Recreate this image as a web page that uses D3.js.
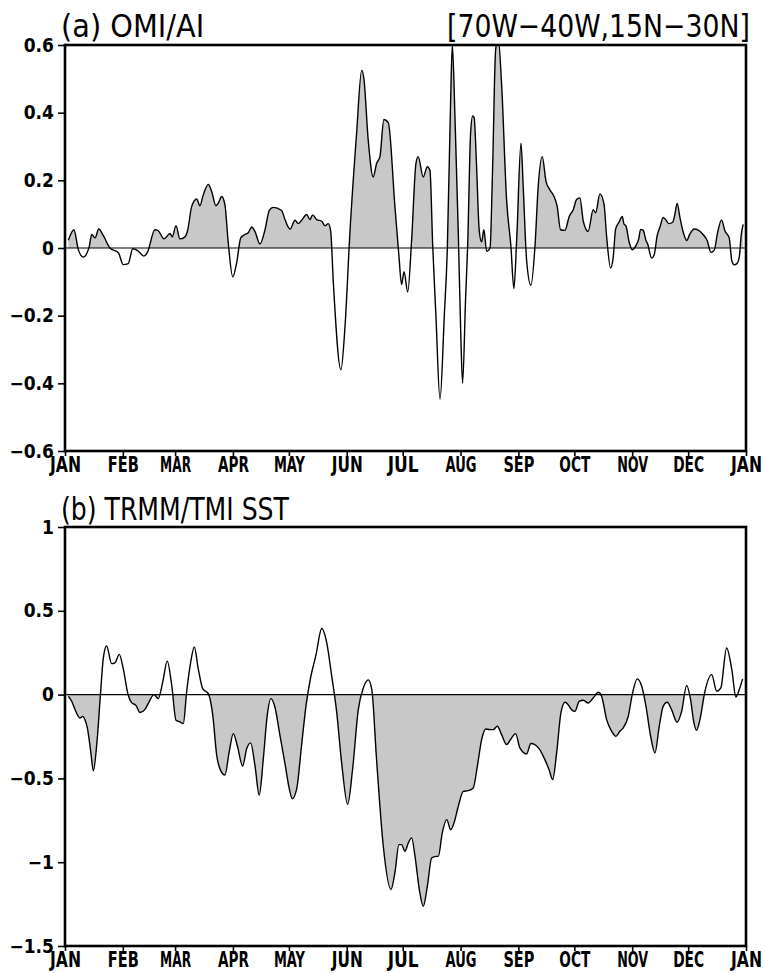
<!DOCTYPE html>
<html>
<head>
<meta charset="utf-8">
<script src="https://cdn.jsdelivr.net/npm/d3@7"></script>
<style>
  body { margin: 0; background: #fff; }
  svg { display: block; }
</style>
</head>
<body>
<script>
// month ticks (day of year where each month starts)
const months = ['JAN', 'FEB', 'MAR', 'APR', 'MAY', 'JUN', 'JUL', 'AUG', 'SEP', 'OCT', 'NOV', 'DEC', 'JAN'];
const monthDays = [0, 31, 59, 90, 120, 151, 181, 212, 243, 273, 304, 334, 365];

// (a) OMI/AI  -- day of year / value
const aDays = [1.8, 4.8, 7.1, 9.8, 13.0, 14.3, 16.1, 18.1, 20.5, 24.1, 28.6, 31.2, 33.9, 36.3, 39.3, 42.3, 44.1,
  48.2, 50.0, 53.1, 56.3, 57.5, 59.5, 61.6, 64.3, 65.8, 67.9, 70.6, 72.3, 74.1, 76.8, 78.6, 80.9, 82.2, 84.0, 85.7,
  87.5, 89.9, 92.0, 94.2, 96.5, 98.2, 100.1, 101.8, 104.5, 107.2, 109.5, 111.6, 116.1, 117.9, 120.6, 123.3, 125.0,
  126.8, 129.5, 131.3, 132.7, 134.9, 137.6, 139.3, 141.1, 142.4, 143.8, 147.9, 150.1, 152.7, 156.3, 159.0, 160.2,
  162.5, 165.2, 167.0, 168.8, 170.9, 173.3, 176.8, 179.0, 180.4, 181.7, 183.7, 185.8, 188.1, 189.3, 192.0, 194.2,
  195.6, 197.1, 198.8, 201.0, 203.3, 204.9, 206.7, 207.6, 209.0, 210.8, 212.1, 213.1, 214.7, 215.8, 217.4, 218.5,
  219.3, 220.6, 222.0, 223.3, 224.5, 226.0, 227.8, 229.2, 230.8, 232.2, 234.0, 236.7, 239.0, 240.6, 242.1, 244.4,
  245.6, 247.4, 249.7, 251.9, 253.6, 255.8, 257.8, 259.9, 262.1, 263.8, 265.6, 267.9, 270.3, 272.4, 274.2, 276.0,
  277.8, 280.4, 283.1, 284.4, 286.7, 288.9, 290.3, 292.4, 293.8, 295.1, 296.9, 298.7, 299.6, 300.6, 302.4, 304.0,
  306.0, 307.5, 308.5, 309.9, 311.4, 312.3, 314.4, 315.8, 317.4, 318.9, 320.6, 321.9, 323.7, 325.7, 326.9, 328.1,
  329.6, 331.4, 333.2, 334.9, 337.2, 339.4, 342.1, 344.2, 346.2, 348.0, 349.8, 351.9, 353.7, 356.0, 357.4, 358.7,
  360.3, 361.4, 362.4, 363.5];
const aVals = [0.023, 0.054, -0.004, -0.027, 0.004, 0.04, 0.03, 0.056, 0.037, 0, -0.014, -0.049, -0.046, -0.002, -0.009, -0.024, -0.014,
  0.054, 0.051, 0.027, 0.043, 0.033, 0.066, 0.027, 0.033, 0.054, 0.123, 0.145, 0.125, 0.157, 0.188, 0.167, 0.125, 0.133, 0.152, 0.128,
  0.015, -0.085, -0.044, 0.03, 0.04, 0.045, 0.062, 0.049, 0.012, 0.054, 0.111, 0.12, 0.111, 0.084, 0.056, 0.082, 0.072,
  0.082, 0.099, 0.084, 0.098, 0.084, 0.079, 0.066, 0.072, 0.05, -0.1, -0.36, -0.23, 0.045, 0.34, 0.525, 0.5,
  0.32, 0.21, 0.25, 0.27, 0.38, 0.37, 0.125, -0.025, -0.108, -0.07, -0.13, 0.025, 0.25, 0.27, 0.21, 0.24,
  0.23, 0.004, -0.2, -0.447, -0.2, -0.005, 0.44, 0.6, 0.39, 0.045, -0.25, -0.4, -0.15, 0.005, 0.34, 0.39,
  0.385, 0.24, 0.053, 0.018, 0.054, -0.01, 0, 0.24, 0.585, 0.62, 0.485, 0.14, 0.005, -0.12, 0.025, 0.31,
  0.18, -0.035, -0.11, 0.005, 0.18, 0.27, 0.197, 0.172, 0.152, 0.123, 0.054, 0.052, 0.094, 0.113, 0.143, 0.148,
  0.079, 0.049, 0.113, 0.104, 0.16, 0.13, 0.034, -0.059, -0.03, 0.056, 0.076, 0.093, 0.071, 0.066, 0.017, -0.005,
  0.007, 0.027, 0.055, 0.052, 0.022, 0.012, -0.03, -0.02, 0.037, 0.062, 0.09, 0.084, 0.072, 0.076, 0.1, 0.132,
  0.09, 0.046, 0.022, 0.041, 0.056, 0.053, 0.039, 0.022, -0.013, -0.006, 0.046, 0.083, 0.051, 0.03, -0.038, -0.05,
  -0.045, -0.027, 0.037, 0.07];
const aTicks = [0.6, 0.4, 0.2, 0, -0.2, -0.4, -0.6];
const aTickLabels = ['0.6', '0.4', '0.2', '0', '\u22120.2', '\u22120.4', '\u22120.6'];

// (b) TRMM/TMI SST  -- day of year / value
const bDays = [1.8, 3.6, 5.4, 8.0, 9.5, 10.7, 12.0, 13.8, 15.2, 17.0, 19.1, 20.5, 22.3, 25.0, 26.8, 29.1, 31.2,
  33.9, 35.7, 38.0, 40.2, 42.9, 44.6, 47.7, 50.0, 52.4, 54.8, 57.2, 59.5, 61.6, 63.4, 65.2, 67.4, 69.3, 71.4, 73.8,
  76.8, 79.2, 81.3, 83.4, 85.7, 88.0, 90.2, 92.3, 95.2, 97.4, 99.5, 101.8, 104.1, 106.3, 108.4, 110.4, 112.5, 115.2,
  117.9, 120.2, 121.8, 124.2, 126.8, 129.2, 131.7, 134.5, 137.6, 140.2, 142.9, 145.6, 148.3, 151.5, 154.1, 157.2,
  159.9, 162.5, 164.4, 167.0, 170.6, 174.7, 176.8, 179.0, 180.4, 182.2, 184.0, 185.8, 187.6, 189.9, 192.0, 194.2,
  196.5, 198.8, 200.1, 202.2, 204.6, 206.7, 208.5, 210.8, 213.5, 216.1, 218.8, 221.0, 223.3, 225.5, 227.8, 229.5,
  231.7, 234.0, 236.7, 239.0, 241.5, 243.8, 247.4, 249.7, 251.9, 254.2, 257.2, 259.4, 261.4, 263.5, 265.8, 268.0,
  269.2, 271.5, 273.3, 275.6, 277.8, 280.4, 283.1, 285.8, 287.6, 290.3, 293.0, 295.3, 297.4, 299.2, 301.9, 304.2,
  306.7, 309.1, 311.4, 313.9, 316.2, 318.5, 320.6, 322.8, 325.1, 328.1, 330.5, 333.2, 335.3, 337.1, 338.5, 340.3,
  343.0, 346.6, 349.3, 351.5, 354.6, 357.4, 359.6, 361.4, 363.2];
const bVals = [-0.01, -0.04, -0.09, -0.14, -0.13, -0.15, -0.2, -0.34, -0.455, -0.3, 0.016, 0.215, 0.29, 0.185, 0.19, 0.24, 0.155,
  -0.004, -0.048, -0.064, -0.107, -0.088, -0.054, 0, -0.024, 0.076, 0.2, 0.056, -0.153, -0.163, -0.173, 0.016, 0.195, 0.285, 0.155, 0.036,
  0.006, -0.123, -0.362, -0.452, -0.48, -0.342, -0.233, -0.302, -0.426, -0.322, -0.288, -0.422, -0.6, -0.382, -0.123, -0.024, -0.074, -0.243,
  -0.412, -0.561, -0.621, -0.561, -0.302, -0.064, 0.105, 0.235, 0.394, 0.314, 0.115, -0.103, -0.41, -0.655, -0.45, -0.09,
  0.04, 0.088, 0.033, -0.39, -0.905, -1.163, -1.064, -0.895, -0.895, -0.935, -0.885, -0.855, -0.965, -1.163, -1.263, -1.144,
  -0.975, -0.965, -0.965, -0.825, -0.746, -0.806, -0.766, -0.666, -0.577, -0.573, -0.557, -0.428, -0.269, -0.205, -0.209, -0.209,
  -0.189, -0.239, -0.298, -0.265, -0.233, -0.318, -0.354, -0.292, -0.298, -0.324, -0.388, -0.447, -0.507, -0.348, -0.109, -0.046,
  -0.054, -0.09, -0.1, -0.04, -0.034, -0.05, -0.02, 0.014, -0.01, -0.149, -0.219, -0.249, -0.219, -0.199, -0.129, 0.01,
  0.094, 0.05, -0.07, -0.249, -0.348, -0.189, -0.07, -0.046, -0.09, -0.165, -0.1, 0.054, -0.03, -0.169, -0.213, -0.149,
  0.02, 0.119, 0.02, 0.04, 0.278, 0.149, -0.014, 0.03, 0.094];
const bTicks = [1, 0.5, 0, -0.5, -1, -1.5];
const bTickLabels = ['1', '0.5', '0', '\u22120.5', '\u22121', '\u22121.5'];

const width = 765;
const height = 974;
const plotLeft = 65;
const plotRight = 746;
const labelFont = "'DejaVu Sans Condensed', 'DejaVu Sans', sans-serif";

const svg = d3.select('body')
  .append('svg')
  .attr('width', width)
  .attr('height', height);

const x = d3.scaleLinear()
  .domain([0, 365])
  .range([plotLeft, plotRight]);

// squeeze a text horizontally so it is `w` px wide (condensed look)
function squeeze(sel, w) {
  sel.each(function () {
    const len = this.getComputedTextLength();
    const s = Math.min(1, w / len);
    const prev = d3.select(this).attr('transform') || '';
    d3.select(this).attr('transform', `${prev} scale(${s},1)`);
  });
}

function drawPanel(opts) {
  const y = d3.scaleLinear()
    .domain(opts.domain)
    .range([opts.bottom, opts.top]);

  const points = opts.days.map((d, i) => ({ day: d, val: opts.vals[i] }));
  const y0 = y(0);

  const defs = svg.append('defs');
  // shade only one side of zero
  defs.append('clipPath')
    .attr('id', opts.id + '-shade')
    .append('rect')
    .attr('x', plotLeft)
    .attr('width', plotRight - plotLeft)
    .attr('y', opts.shadeAbove ? opts.top : y0)
    .attr('height', opts.shadeAbove ? y0 - opts.top : opts.bottom - y0);
  defs.append('clipPath')
    .attr('id', opts.id + '-plot')
    .append('rect')
    .attr('x', plotLeft)
    .attr('width', plotRight - plotLeft)
    .attr('y', opts.top)
    .attr('height', opts.bottom - opts.top);

  const area = d3.area()
    .x(d => x(d.day))
    .y0(y0)
    .y1(d => y(d.val))
    .curve(d3.curveMonotoneX);

  const line = d3.line()
    .x(d => x(d.day))
    .y(d => y(d.val))
    .curve(d3.curveMonotoneX);

  svg.append('path')
    .datum(points)
    .attr('clip-path', `url(#${opts.id}-shade)`)
    .attr('d', area)
    .attr('fill', '#c8c8c8');

  // zero line
  svg.append('line')
    .attr('x1', plotLeft)
    .attr('x2', plotRight)
    .attr('y1', y0)
    .attr('y2', y0)
    .attr('stroke', '#000')
    .attr('stroke-width', 1.2);

  svg.append('path')
    .datum(points)
    .attr('clip-path', `url(#${opts.id}-plot)`)
    .attr('d', line)
    .attr('fill', 'none')
    .attr('stroke', '#000')
    .attr('stroke-width', 1.4)
    .attr('stroke-linejoin', 'round');

  // y axis
  const yAxis = svg.append('g')
    .attr('transform', `translate(${plotLeft},0)`)
    .call(d3.axisLeft(y)
      .tickValues(opts.ticks)
      .tickSize(7)
      .tickPadding(4)
      .tickFormat((d, i) => opts.tickLabels[i]));
  yAxis.select('.domain').remove();
  yAxis.selectAll('line').attr('stroke', '#000').attr('stroke-width', 1.6);
  yAxis.selectAll('text')
    .attr('fill', '#000')
    .style('font-family', labelFont)
    .style('font-weight', 'bold')
    .style('font-size', '19px');

  // x axis (months)
  const xAxis = svg.append('g')
    .attr('transform', `translate(0,${opts.bottom})`)
    .call(d3.axisBottom(x)
      .tickValues(monthDays)
      .tickSize(5)
      .tickPadding(0)
      .tickFormat((d, i) => months[i]));
  xAxis.select('.domain').remove();
  xAxis.selectAll('line').attr('stroke', '#000').attr('stroke-width', 1.6);
  xAxis.selectAll('text')
    .attr('fill', '#000')
    .style('font-family', labelFont)
    .style('font-weight', 'bold')
    .style('font-size', '22px')
    .call(squeeze, 31);

  // frame
  svg.append('rect')
    .attr('x', plotLeft)
    .attr('y', opts.top)
    .attr('width', plotRight - plotLeft)
    .attr('height', opts.bottom - opts.top)
    .attr('fill', 'none')
    .attr('stroke', '#000')
    .attr('stroke-width', 2.6);

  // titles
  opts.titles.forEach(t => {
    svg.append('text')
      .attr('transform', `translate(${t.x},${opts.titleY})`)
      .style('font-family', labelFont)
      .style('font-size', '32px')
      .text(t.text)
      .call(squeeze, t.len);
  });
}

drawPanel({
  id: 'pa',
  domain: [-0.6, 0.6],
  top: 45,
  bottom: 451,
  days: aDays,
  vals: aVals,
  ticks: aTicks,
  tickLabels: aTickLabels,
  shadeAbove: true,
  titleY: 37,
  titles: [
    { text: '(a) OMI/AI', x: 61, len: 150 },
    { text: '[70W\u221240W,15N\u221230N]', x: 447, len: 303 }
  ]
});

drawPanel({
  id: 'pb',
  domain: [-1.5, 1],
  top: 527,
  bottom: 946,
  days: bDays,
  vals: bVals,
  ticks: bTicks,
  tickLabels: bTickLabels,
  shadeAbove: false,
  titleY: 520,
  titles: [
    { text: '(b) TRMM/TMI SST', x: 61, len: 228 }
  ]
});
</script>
</body>
</html>
